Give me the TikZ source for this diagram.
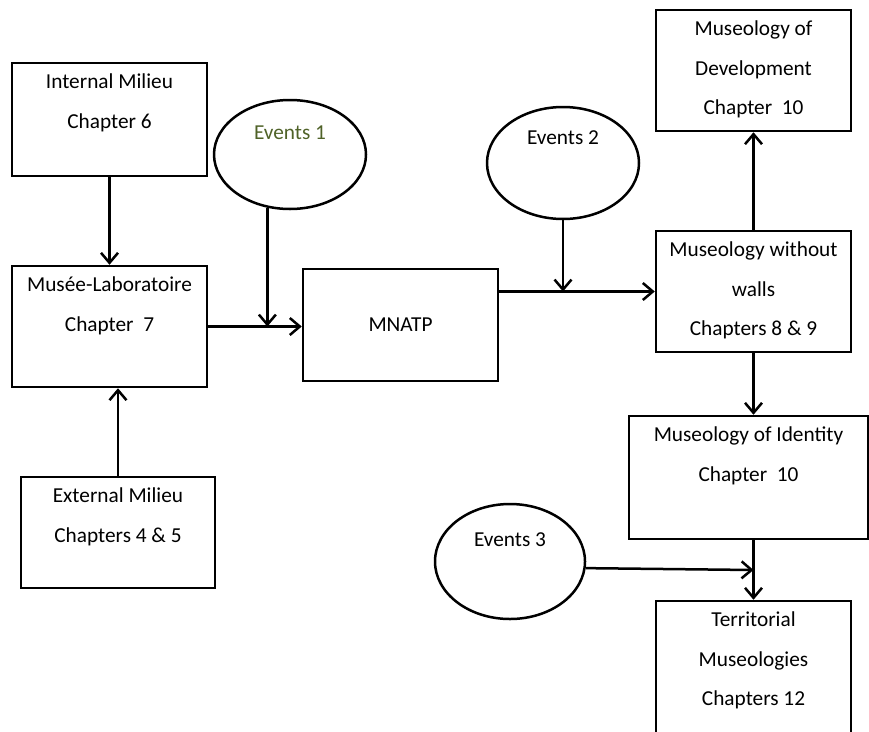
\documentclass[tikz,border=0pt]{standalone}
\usepackage{fontspec}
\setmainfont{Carlito}
\usetikzlibrary{positioning,shapes.geometric,arrows.meta}
\definecolor{olivetext}{RGB}{79,98,40}
\tikzset{
  chapbox/.style={draw, line width=2.5pt, inner sep=0pt, minimum width=195pt},
  eventnode/.style={draw, ellipse, line width=2.5pt, inner sep=0pt},
  boxtext/.style={align=center, inner sep=0pt, font=\fontsize{21.3}{39.5}\selectfont},
  flow/.style={line width=2.5pt, -{Straight Barb[length=10pt,width=17pt]}},
}

\begin{document}
\begin{tikzpicture}[x=1pt,y=-1pt]
\useasboundingbox (0,0) rectangle (869,731);
\clip (0,0) rectangle (869,731);
% boxes
\node[chapbox, minimum height=113pt] (internal) at (109.5,119.5) {};
\node[chapbox, minimum height=121pt] (musee) at (109.5,326.5) {};
\node[chapbox, minimum width=194pt, minimum height=111pt] (external) at (118,532.5) {};
\node[chapbox, minimum height=112pt] (mnatp) at (400.5,325) {};
\node[chapbox, minimum height=121pt] (develop) at (753.5,70.5) {};
\node[chapbox, minimum height=121pt] (nowalls) at (753.5,291.5) {};
\node[chapbox, minimum width=239pt, minimum height=123pt] (identity) at (748.5,477.5) {};
\node[chapbox, minimum height=159pt] (territory) at (753.5,680.5) {};
% events
\node[eventnode, minimum width=152pt, minimum height=109pt] (events1) at (290,154.5) {};
\node[eventnode, minimum width=152pt, minimum height=112pt] (events2) at (563,163) {};
\node[eventnode, minimum width=150pt, minimum height=115pt] (events3) at (510,561.5) {};
% texts
\node[boxtext, below=12pt of internal.north] (internaltxt) {Internal Milieu\\Chapter 6};
\node[boxtext, below=12pt of musee.north] (museetxt) {Musée-Laboratoire\\Chapter~~7};
\node[boxtext, below=12pt of external.north] (externaltxt) {External Milieu\\Chapters 4 \& 5};
\node[boxtext] (mnatptxt) at (mnatp.center) {MNATP};
\node[boxtext, below=12pt of develop.north] (developtxt) {Museology of\\Development\\Chapter~~10};
\node[boxtext, below=12pt of nowalls.north] (nowallstxt) {Museology without\\walls\\Chapters 8 \& 9};
\node[boxtext, below=12pt of identity.north] (identitytxt) {Museology of Identity\\Chapter~~10};
\node[boxtext, below=12pt of territory.north] (territorytxt) {Territorial\\Museologies\\Chapters 12};
\node[boxtext, text=olivetext, below=27pt of events1.north] (events1txt) {Events 1};
\node[boxtext, below=25pt of events2.north] (events2txt) {Events 2};
\node[boxtext, below=30pt of events3.north] (events3txt) {Events 3};
% junctions
\coordinate (j1) at (268,326.5);
\coordinate (j3) at (753.5,570);
% arrows
\draw[flow] (internal.south) -- (musee.north);
\draw[flow] (external.north) -- (external.north |- musee.south);
\draw[flow] (musee.east) -- (mnatp.west |- musee.east);
\draw[flow] (events1.247) -- (events1.247 |- j1);
\draw[flow] (mnatp.east |- nowalls.west) -- (nowalls.west);
\draw[flow] (events2.south) -- (events2.south |- nowalls.west);
\draw[flow] (nowalls.north) -- (develop.south);
\draw[flow] (nowalls.south) -- (nowalls.south |- identity.north);
\draw[flow] (territory.north |- identity.south) -- (territory.north);
\draw[flow] (events3.-5) -- (j3);
\end{tikzpicture}
\end{document}
